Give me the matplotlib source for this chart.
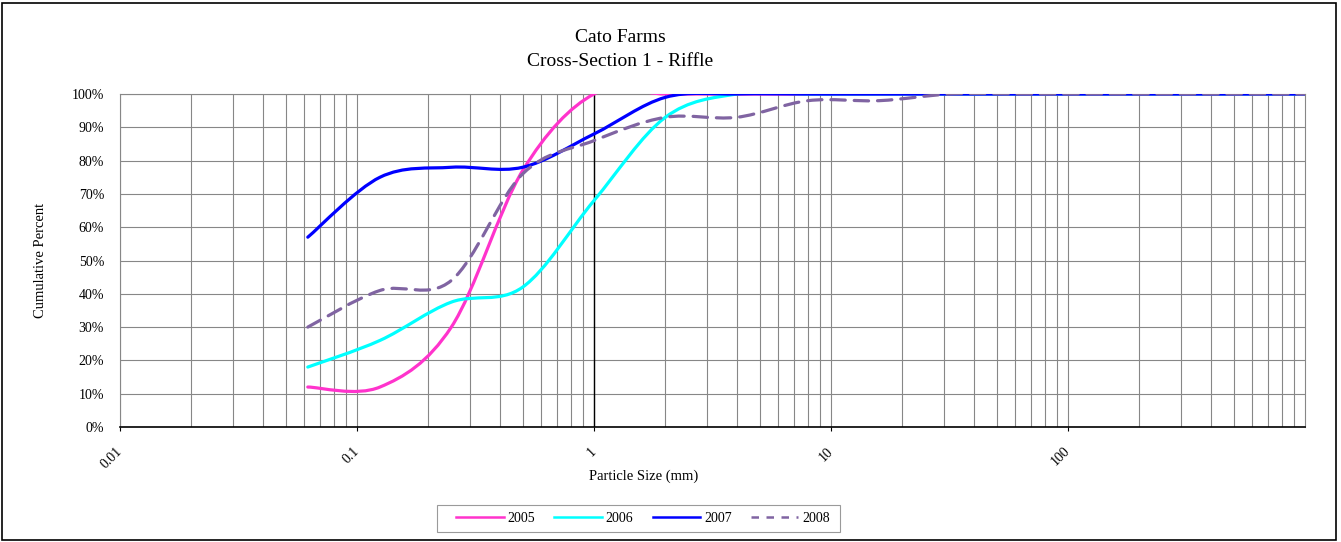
"""Cato Farms cross-section 1 riffle - cumulative particle size curves (Excel-style smoothed lines)."""

import matplotlib

matplotlib.use("Agg")
import matplotlib.pyplot as plt
import numpy as np
from matplotlib.lines import Line2D
from matplotlib.patches import PathPatch, Rectangle
from matplotlib.path import Path
from matplotlib.ticker import FixedLocator, FuncFormatter, NullFormatter

plt.rcParams["font.family"] = ["Liberation Serif", "DejaVu Serif"]

# sieve sizes (mm) and cumulative percent finer
sizes = [0.062, 0.125, 0.25, 0.5, 1, 2, 4, 8, 16, 32, 64, 128, 256, 512, 1024]
pct_2005 = [12, 12, 30, 77, 100, 100, 100, 100, 100, 100, 100, 100, 100, 100, 100]
pct_2006 = [18, 26, 37.5, 42, 68, 93, 100, 100, 100, 100, 100, 100, 100, 100, 100]
pct_2007 = [57, 75, 78, 78, 88, 99, 100, 100, 100, 100, 100, 100, 100, 100, 100]
pct_2008 = [30, 41, 44, 76, 86, 93, 93, 98, 98, 100, 100, 100, 100, 100, 100]
years = ["2005", "2006", "2007", "2008"]
colors = ["#ff33cc", "#00ffff", "#0000ff", "#8064a2"]
styles = ["-", "-", "-", (0, (4.5, 2.8))]


def smooth_path(xs, ys):
    # Excel "smoothed line": cubic Bezier per segment, control points from neighbours (1/6),
    # built in log-x space; the Bezier itself is drawn by matplotlib in screen space
    lx = np.log10(xs)
    y = np.asarray(ys, float)
    n = len(lx)
    verts = [(xs[0], y[0])]
    codes = [Path.MOVETO]
    for i in range(n - 1):
        p0 = max(i - 1, 0)
        p3 = min(i + 2, n - 1)
        c1 = (lx[i] + (lx[i + 1] - lx[p0]) / 6, y[i] + (y[i + 1] - y[p0]) / 6)
        c2 = (lx[i + 1] - (lx[p3] - lx[i]) / 6, y[i + 1] - (y[p3] - y[i]) / 6)
        verts += [(10 ** c1[0], c1[1]), (10 ** c2[0], c2[1]), (xs[i + 1], y[i + 1])]
        codes += [Path.CURVE4] * 3
    return Path(verts, codes)


fig = plt.figure(figsize=(13.41, 5.42), dpi=100)
ax = fig.add_axes([120 / 1341, 1 - 427 / 542, (1305 - 120) / 1341, (427 - 94) / 542])
ax.set_xscale("log")
ax.set_xlim(0.01, 1000)
ax.set_ylim(0, 100)

for pcts, c, ls in zip([pct_2005, pct_2006, pct_2007, pct_2008], colors, styles):
    ax.add_patch(PathPatch(smooth_path(sizes, pcts), fill=False, edgecolor=c, lw=2.3,
                           linestyle=ls, capstyle="round", zorder=3))

# grid
ax.xaxis.set_minor_locator(FixedLocator([m * 10.0 ** e for e in range(-2, 3) for m in range(2, 10)]))
ax.xaxis.set_minor_formatter(NullFormatter())
ax.grid(which="both", axis="x", color="#878787", lw=0.8)
ax.set_yticks(np.arange(0, 101, 10))
ax.grid(which="major", axis="y", color="#878787", lw=0.8)
ax.set_axisbelow(True)
ax.axvline(1, color="black", lw=1.0, zorder=2)

ax.yaxis.set_major_formatter(FuncFormatter(lambda v, p: f"{v:.0f}%"))
ax.tick_params(axis="y", length=0, labelsize=10, pad=11.5)
ax.set_xticks([0.01, 0.1, 1, 10, 100])
ax.set_xticklabels(["0.01", "0.1", "1", "10", "100"])
ax.tick_params(axis="x", which="major", length=3, direction="out", labelsize=10, pad=13)
ax.tick_params(axis="x", which="minor", length=0)
for lab in ax.get_xticklabels():
    lab.set_rotation(45)
    lab.set_ha("right")
    lab.set_va("center")
    lab.set_rotation_mode("anchor")

for s in ["left", "top", "right"]:
    ax.spines[s].set_color("#878787")
ax.spines["bottom"].set_color("black")
ax.spines["bottom"].set_linewidth(1.2)

fig.text(620 / 1341, 1 - 38 / 542, "Cato Farms", ha="center", va="center", fontsize=14)
fig.text(620 / 1341, 1 - 61 / 542, "Cross-Section 1 - Riffle", ha="center", va="center", fontsize=14)
fig.text(40 / 1341, 1 - 260 / 542, "Cumulative Percent", ha="center", va="center", rotation=90, fontsize=10.5)
fig.text(644 / 1341, 1 - 476 / 542, "Particle Size (mm)", ha="center", va="center", fontsize=10.5)

handles = [Line2D([], [], color=c, lw=1.8) for c in colors[:3]]
handles.append(Line2D([], [], color=colors[3], lw=1.8, linestyle=(0, (3, 3))))
fig.legend(handles, years, loc="center", bbox_to_anchor=(643 / 1341, 1 - 518.5 / 542), ncol=4,
           fontsize=10, frameon=False, handlelength=3.4, handletextpad=0.3, columnspacing=1.37,
           borderpad=0)
fig.patches.append(Rectangle((437 / 1341, 1 - 532 / 542), 403 / 1341, 27 / 542, transform=fig.transFigure,
                             fill=False, edgecolor="#9a9a9a", lw=0.8))

fig.patches.append(Rectangle((2 / 1341, 2 / 542), 1334 / 1341, 537 / 542, transform=fig.transFigure,
                             fill=False, edgecolor="black", lw=1.2))

fig.savefig("out.png", dpi=100)
